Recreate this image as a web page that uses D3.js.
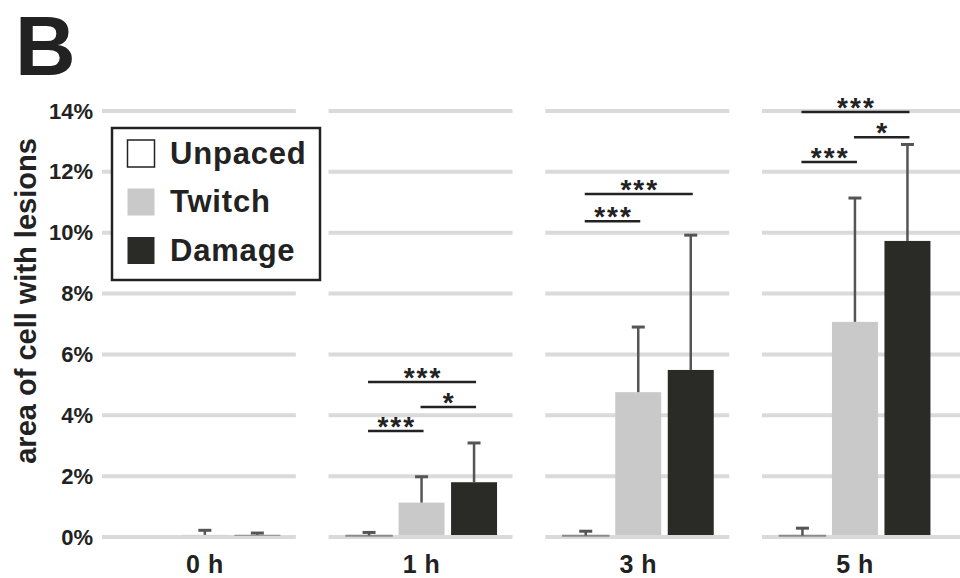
<!DOCTYPE html>
<html>
<head>
<meta charset="utf-8">
<script src="https://cdn.jsdelivr.net/npm/d3@7"></script>
<style>
  html, body { margin: 0; padding: 0; background: #fff; }
  svg { display: block; font-family: "Liberation Sans", Arial, sans-serif; }
</style>
</head>
<body>
<svg id="chart" width="960" height="578"></svg>
<script>
// ---- data ----
const categories = ["0 h", "1 h", "3 h", "5 h"];
const series = ["Unpaced", "Twitch", "Damage"];
const unpacedMean = [null, 0.05, 0.05, 0.05];
const unpacedSD   = [null, 0.10, 0.14, 0.24];
const twitchMean  = [0.07, 1.13, 4.76, 7.07];
const twitchSD    = [0.15, 0.85, 2.14, 4.07];
const damageMean  = [0.07, 1.80, 5.49, 9.73];
const damageSD    = [0.06, 1.29, 4.43, 3.17];
const yTicks = [0, 2, 4, 6, 8, 10, 12, 14];
const yTickLabels = ["0%", "2%", "4%", "6%", "8%", "10%", "12%", "14%"];
// significance brackets
const sigPanel = ["1 h", "1 h", "1 h", "3 h", "3 h", "5 h", "5 h", "5 h"];
const sigFrom  = ["Unpaced", "Twitch", "Unpaced", "Unpaced", "Unpaced", "Unpaced", "Twitch", "Unpaced"];
const sigTo    = ["Damage", "Damage", "Twitch", "Damage", "Twitch", "Damage", "Damage", "Twitch"];
const sigLevel = [5.09, 4.27, 3.48, 11.27, 10.38, 13.97, 13.14, 12.32];
const sigLabel = ["***", "*", "***", "***", "***", "***", "*", "***"];

const means = { Unpaced: unpacedMean, Twitch: twitchMean, Damage: damageMean };
const sds = { Unpaced: unpacedSD, Twitch: twitchSD, Damage: damageSD };
const colors = { Unpaced: "#ffffff", Twitch: "#c8c9c8", Damage: "#2a2a26" };
const strokes = { Unpaced: "#8a8a8a", Twitch: "none", Damage: "none" };

const svg = d3.select("#chart");
const plotLeft = 102, plotRight = 960;

const y = d3.scaleLinear().domain([0, 14]).range([537, 111]);
const x0 = d3.scaleBand().domain(categories).range([96.5, 963.3]).padding(0);
const x1 = d3.scaleBand().domain(series).range([-75.5, 75.5]).paddingInner(0.124).paddingOuter(0);
const center = c => x0(c) + x0.bandwidth() / 2;

// ---- gridlines (segmented per panel) ----
const grid = svg.append("g");
categories.forEach((c, i) => {
  const xs = i === 0 ? plotLeft : center(c) - 93;
  const xe = i === categories.length - 1 ? plotRight : center(c) + 91;
  grid.selectAll(null).data(yTicks).enter().append("line")
    .attr("x1", xs).attr("x2", xe)
    .attr("y1", d => y(d)).attr("y2", d => y(d))
    .attr("stroke", "#dadada").attr("stroke-width", 4);
});

// ---- y axis labels ----
const yAxis = d3.axisLeft(y).tickValues(yTicks).tickFormat((d, i) => yTickLabels[i]).tickSize(0).tickPadding(0);
const ya = svg.append("g").attr("transform", "translate(93,0)").call(yAxis);
ya.select(".domain").remove();
ya.selectAll("text").attr("font-size", 22).attr("font-weight", "bold").attr("fill", "#222")
  .attr("font-family", "Liberation Sans, Arial, sans-serif");

// ---- y title ----
svg.append("text")
  .attr("transform", "translate(36,301) rotate(-90)")
  .attr("text-anchor", "middle")
  .attr("font-size", 29).attr("font-weight", "bold").attr("fill", "#222")
  .text("area of cell with lesions");

// ---- x category labels ----
const xAxis = d3.axisBottom(x0).tickSize(0).tickPadding(0);
const xa = svg.append("g").attr("transform", "translate(0,572.5)").call(xAxis);
xa.select(".domain").remove();
xa.selectAll("text").attr("font-size", 25).attr("font-weight", "bold").attr("fill", "#222")
  .attr("font-family", "Liberation Sans, Arial, sans-serif").attr("y", 0).attr("dy", 0)
  .attr("letter-spacing", 0.5);

// ---- bars ----
const barData = [];
categories.forEach((c, i) => {
  series.forEach(s => {
    if (means[s][i] !== null) barData.push({ c, s, m: means[s][i], sd: sds[s][i] });
  });
});
const bars = svg.append("g");
bars.selectAll("rect").data(barData).enter().append("rect")
  .attr("x", d => center(d.c) + x1(d.s))
  .attr("width", x1.bandwidth())
  .attr("y", d => y(d.m))
  .attr("height", d => Math.max(0.5, y(0) - 2 - y(d.m)))
  .attr("fill", d => colors[d.s])
  .attr("stroke", d => strokes[d.s])
  .attr("stroke-width", 1.5);

// ---- error bars ----
const err = svg.append("g").attr("stroke", "#555");
barData.forEach(d => {
  const cx = center(d.c) + x1(d.s) + x1.bandwidth() / 2;
  const top = y(d.m + d.sd);
  err.append("line").attr("x1", cx).attr("x2", cx).attr("y1", y(d.m)).attr("y2", top).attr("stroke-width", 2.5);
  err.append("line").attr("x1", cx - 6.5).attr("x2", cx + 6.5).attr("y1", top).attr("y2", top).attr("stroke-width", 3);
});

// ---- significance brackets ----
const sig = svg.append("g");
sigPanel.forEach((p, i) => {
  const xa_ = center(p) + x1(sigFrom[i]) + x1.bandwidth() / 2 - 1;
  const xb_ = center(p) + x1(sigTo[i]) + x1.bandwidth() / 2 + 2;
  const yy = y(sigLevel[i]);
  sig.append("line").attr("x1", xa_).attr("x2", xb_).attr("y1", yy).attr("y2", yy)
    .attr("stroke", "#222").attr("stroke-width", 2.5);
  sig.append("text").attr("x", (xa_ + xb_) / 2 + 1).attr("y", yy + 5)
    .attr("text-anchor", "middle").attr("font-size", 28).attr("font-weight", "bold")
    .attr("letter-spacing", 2).attr("fill", "#222").text(sigLabel[i]);
});

// ---- legend ----
const lg = svg.append("g");
lg.append("rect").attr("x", 112).attr("y", 128).attr("width", 208).attr("height", 152)
  .attr("fill", "#fff").attr("stroke", "#222").attr("stroke-width", 2.5);
series.forEach((s, i) => {
  const yy = 140 + i * 48.5;
  lg.append("rect").attr("x", 127.5).attr("y", yy).attr("width", 27).attr("height", 27)
    .attr("fill", colors[s]).attr("stroke", s === "Unpaced" ? "#222" : "none").attr("stroke-width", 1.5);
  lg.append("text").attr("x", 170).attr("y", yy + 23.5)
    .attr("font-size", 31).attr("font-weight", "bold").attr("letter-spacing", 0.8)
    .attr("fill", "#222").text(s);
});

// ---- panel letter ----
svg.append("text").attr("x", 15).attr("y", 75).attr("font-size", 84).attr("font-weight", "bold")
  .attr("fill", "#222").text("B");
</script>
</body>
</html>
